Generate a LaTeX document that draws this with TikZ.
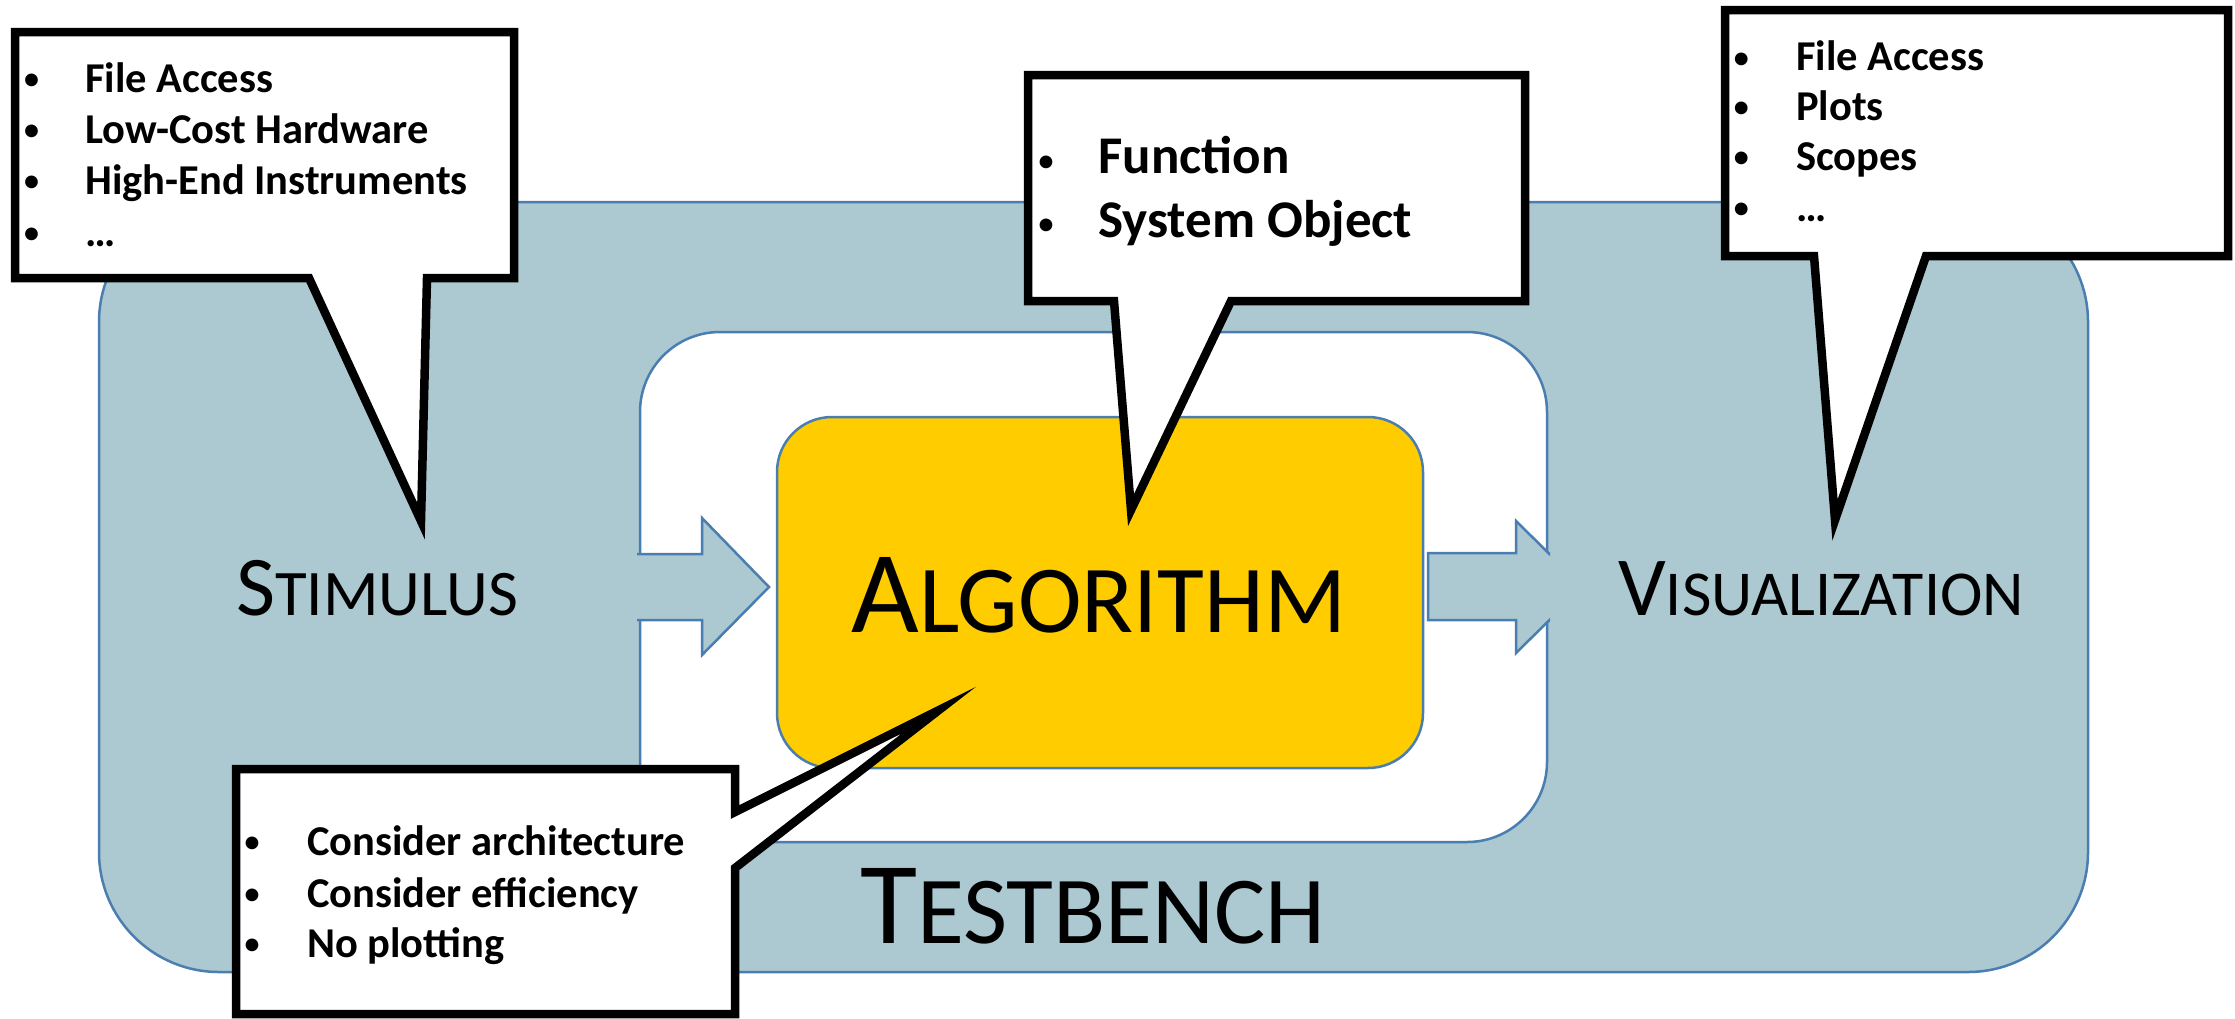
\documentclass[tikz,border=0pt]{standalone}
\usepackage{fontspec}
\setmainfont{Carlito}
\definecolor{tbblue}{HTML}{ACC8D0}
\definecolor{tbline}{HTML}{4A7EB0}
\definecolor{algyellow}{HTML}{FFCC00}
\newcommand{\bul}[1]{\llap{\makebox[0pt]{\raisebox{1.5pt}{\fontsize{36}{36}\selectfont\mdseries •}}\hspace{#1pt}}}
\begin{document}
\begin{tikzpicture}[x=1pt,y=-1pt,
  shapeline/.style={draw=tbline,line width=2.5pt},
  callout/.style={draw=black,fill=white,line width=8.5pt,line join=miter,miter limit=40},
  biglabel/.style={anchor=base,inner sep=0pt,text=black},
  item/.style={anchor=base west,inner sep=0pt,font=\fontsize{42.5}{42.5}\selectfont\bfseries},
  bigitem/.style={anchor=base west,inner sep=0pt,font=\fontsize{53}{53}\selectfont\bfseries},
]
\useasboundingbox[fill=white] (0,0) rectangle (2235,1018);

% testbench background
\draw[shapeline,fill=tbblue,rounded corners=120pt] (99,202) rectangle (2088,972);
% white loop
\draw[shapeline,fill=white,rounded corners=80pt] (640,332) rectangle (1547,842);
% algorithm box
\draw[shapeline,fill=algyellow,rounded corners=55pt] (777,417) rectangle (1423,768);

% arrows
\begin{scope}
\clip (637,0) rectangle (1550,1018);
\draw[shapeline,fill=tbblue,line join=miter] (615,554) -- (702,554) -- (702,518) -- (769,587) -- (702,655) -- (702,620) -- (615,620) -- cycle;
\draw[shapeline,fill=tbblue,line join=miter] (1428,553) -- (1516,553) -- (1516,521) -- (1583,587) -- (1516,653) -- (1516,620) -- (1428,620) -- cycle;
\end{scope}

% big labels
\node[biglabel] (stim) at (377,615) {{\fontsize{85}{85}\selectfont S}{\fontsize{65}{65}\selectfont TIMULUS}};
\node[biglabel] (vis) at (1821,615) {{\fontsize{84}{84}\selectfont V}{\fontsize{64}{64}\selectfont ISUALIZATION}};
\node[biglabel] (alg) at (1099,632) {{\fontsize{117}{117}\selectfont A}{\fontsize{96}{96}\selectfont LGORITHM}};
\node[biglabel] (tb) at (1093,943) {{\fontsize{117}{117}\selectfont T}{\fontsize{96}{96}\selectfont ESTBENCH}};

% callouts
\draw[callout] (15,32) -- (514,32) -- (514,278) -- (427,278) -- (421,521) -- (309,278) -- (15,278) -- cycle;
\draw[callout] (1028,75) -- (1525,75) -- (1525,301) -- (1231,301) -- (1131,510) -- (1114,301) -- (1028,301) -- cycle;
\draw[callout] (1725,10) -- (2228,10) -- (2228,256) -- (1926,256) -- (1835,520) -- (1814,256) -- (1725,256) -- cycle;
\draw[callout] (236,769) -- (735,769) -- (735,812) -- (939,710) -- (735,868) -- (735,1014) -- (236,1014) -- cycle;

% stimulus callout text
\node[item] (s1) at (85,92) {\bul{53.5}File Access};
\node[item] (s2) at (85,143) {\bul{53.5}Low-Cost Hardware};
\node[item] (s3) at (85,194) {\bul{53.5}High-End Instruments};
\node[item] (s4) at (85,246) {\bul{53.5}…};
% function callout text
\node[bigitem] (f1) at (1098,173.6) {\bul{52}Function};
\node[bigitem] (f2) at (1098,237) {\bul{52}System Object};
% visualization callout text
\node[item] (v1) at (1796,70.7) {\bul{55}File Access};
\node[item] (v2) at (1796,120) {\bul{55}Plots};
\node[item] (v3) at (1796,170) {\bul{55}Scopes};
\node[item] (v4) at (1796,221) {\bul{55}…};
% algorithm callout text
\node[item] (a1) at (307,855) {\bul{55}Consider architecture};
\node[item] (a2) at (307,907) {\bul{55}Consider efficiency};
\node[item] (a3) at (307,957) {\bul{55}No plotting};
\end{tikzpicture}
\end{document}
